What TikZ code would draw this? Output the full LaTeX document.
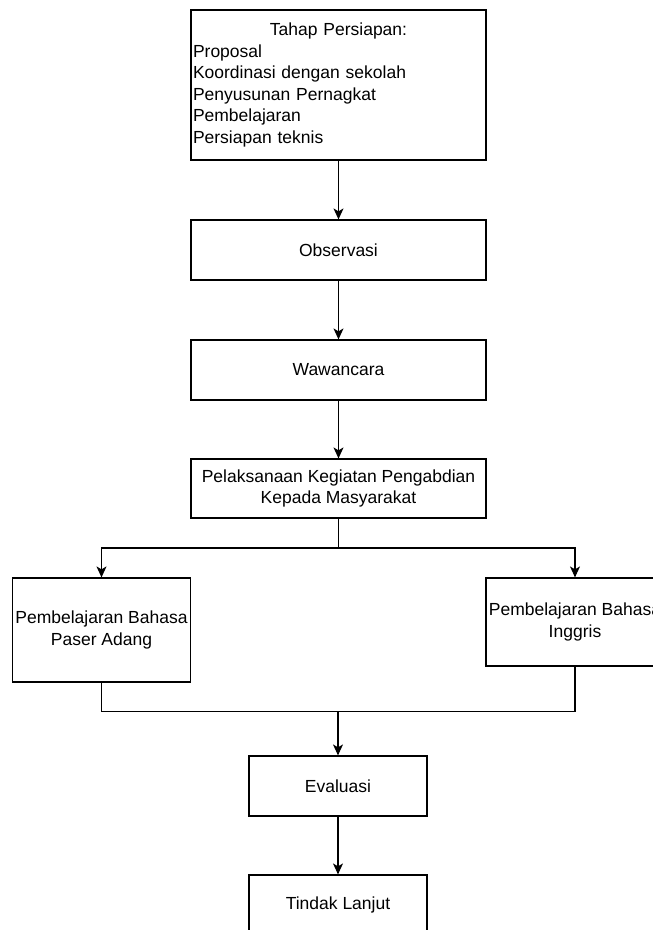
\documentclass[tikz,border=0pt]{standalone}
\usepackage{fontspec}
\setmainfont{Liberation Sans}
\usetikzlibrary{arrows.meta}
\begin{document}
\begin{tikzpicture}[x=1pt,y=1pt,
  box/.style={draw=black, line width=1.2pt, fill=white, inner sep=0pt, align=center,
    font=\fontsize{17.5pt}{21.5pt}\selectfont, text=black},
  conn/.style={draw=black, line width=1.2pt},
  arr/.style={conn, -{Stealth[length=11pt,width=10pt,inset=3pt]}}]
\useasboundingbox (0,0) rectangle (653,-930);
\clip (0,0) rectangle (653,-930);
\fill[white] (0,0) rectangle (653,-930);

\node[box, minimum width=295pt, minimum height=150pt, text width=291pt, align=left] (prep) at (338.5,-85)
  {{\centering Tahap Persiapan:\par}Proposal\\Koordinasi dengan sekolah\\Penyusunan Pernagkat\\Pembelajaran\\Persiapan teknis};
\node[box, minimum width=295pt, minimum height=60pt] (obs) at (338.5,-250) {Observasi};
\node[box, minimum width=295pt, minimum height=60pt] (waw) at (338.5,-370) {Wawancara};
\node[box, minimum width=295pt, minimum height=59pt] (pk) at (338.5,-488.5) {Pelaksanaan Kegiatan Pengabdian\\Kepada Masyarakat};
\node[box, minimum width=178pt, minimum height=104pt] (pba) at (101.5,-630) {Pembelajaran Bahasa\\Paser Adang};
\node[box, minimum width=178pt, minimum height=88pt] (pbi) at (575,-622) {Pembelajaran Bahasa\\Inggris};
\node[box, minimum width=178pt, minimum height=60pt] (eval) at (338,-786) {Evaluasi};
\node[box, minimum width=178pt, minimum height=60pt] (tl) at (338,-905) {Tindak Lanjut};

\coordinate (fork) at (338.5,-548);
\coordinate (merge) at (338,-711.5);

\draw[arr] (prep) -- (obs);
\draw[arr] (obs) -- (waw);
\draw[arr] (waw) -- (pk);
\draw[conn] (pk.south) -- (fork);
\draw[arr] (fork) -| (pba.north);
\draw[arr] (fork) -| (pbi.north);
\draw[conn] (pba.south) |- (merge);
\draw[conn] (pbi.south) |- (merge);
\draw[arr] (merge) -- (eval.north);
\draw[arr] (eval) -- (tl);
\end{tikzpicture}
\end{document}
